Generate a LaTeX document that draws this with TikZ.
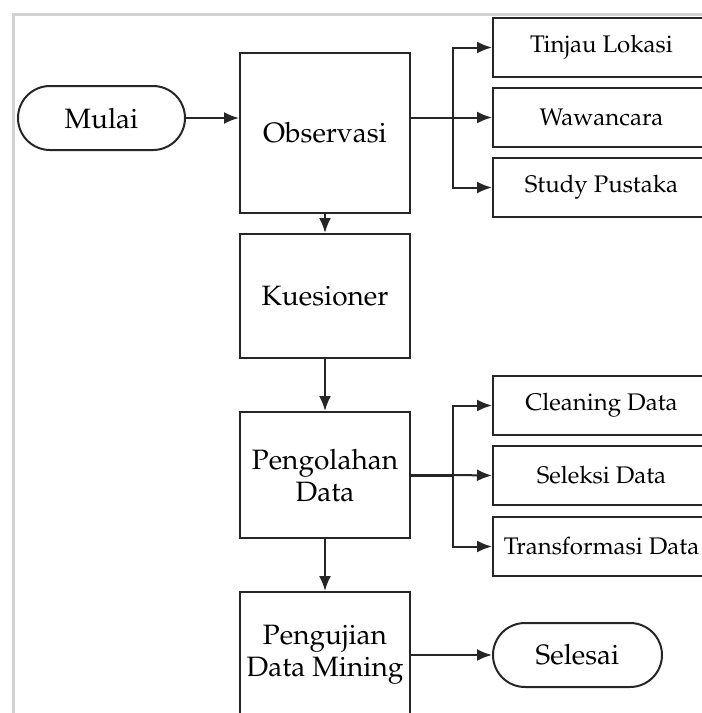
\documentclass[tikz,border=0pt]{standalone}
\usepackage[T1]{fontenc}
\usepackage{mathpazo}
\usetikzlibrary{calc,arrows.meta}
\tikzset{>={Latex[length=7.5pt,width=6pt]}}
\colorlet{frame}{gray!35}
\colorlet{ink}{black!85}
\tikzset{
  box/.style = {draw=ink, line width=1pt, minimum width=85pt, align=center,
    font=\fontsize{14}{16}\selectfont},
  sub/.style = {draw=ink, line width=1pt, minimum width=108.5pt, minimum height=29.5pt,
    font=\fontsize{12}{14}\selectfont},
  term/.style = {draw=ink, line width=1pt, rounded corners=16pt, minimum height=32pt,
    font=\fontsize{14}{16}\selectfont},
  link/.style = {->, draw=ink, line width=1pt}
}

\begin{document}
\begin{tikzpicture}[x=0.5pt,y=-0.5pt]
  \useasboundingbox (0,0) rectangle (702,713);
  \clip (0,0) rectangle (702,713);
  % frame
  \draw[frame,line width=1.5pt] (13,713) -- (13,14) -- (702,14);
  % main column
  \node[term,minimum width=83.5pt] (mulai) at (101.5,118) {Mulai};
  \node[box,minimum height=80pt] (obs) at (325,133) {Observasi};
  \node[box,minimum height=62pt] (kues) at (325,296) {Kuesioner};
  \node[box,minimum height=63pt] (olah) at (325,475) {Pengolahan\\Data};
  \node[box,minimum height=63pt] (uji) at (325,655) {Pengujian\\Data Mining};
  \node[term,minimum width=84.5pt] (selesai) at (577.5,655) {Selesai};
  % right column
  \node[sub] (tinjau) at (601.5,47.5) {Tinjau Lokasi};
  \node[sub] (wawan) at (601.5,117.5) {Wawancara};
  \node[sub] (studi) at (601.5,187.5) {Study Pustaka};
  \node[sub] (clean) at (601.5,405.5) {Cleaning Data};
  \node[sub] (seleksi) at (601.5,475.5) {Seleksi Data};
  \node[sub] (trans) at (601.5,546.5) {Transformasi Data};
  % junctions
  \coordinate (j1) at ($(obs.east |- wawan.west)+(42,0)$);
  \coordinate (j2) at ($(olah.east)+(42,0)$);
  % arrows
  \draw[link] (mulai) -- (mulai -| obs.west);
  \draw[link] (obs.east |- wawan.west) -- (wawan.west);
  \draw[link] (j1) |- (tinjau.west);
  \draw[link] (j1) |- (studi.west);
  \draw[draw=ink,line width=1.5pt] (olah.east) -- (j2);
  \draw[link] (j2) -- (seleksi.west);
  \draw[link] (j2) |- (clean.west);
  \draw[link] (j2) |- (trans.west);
  \draw[link] (obs) -- (kues);
  \draw[link] (kues) -- (olah);
  \draw[link] (olah) -- (uji);
  \draw[link] (uji.east |- selesai.west) -- (selesai.west);
\end{tikzpicture}
\end{document}
